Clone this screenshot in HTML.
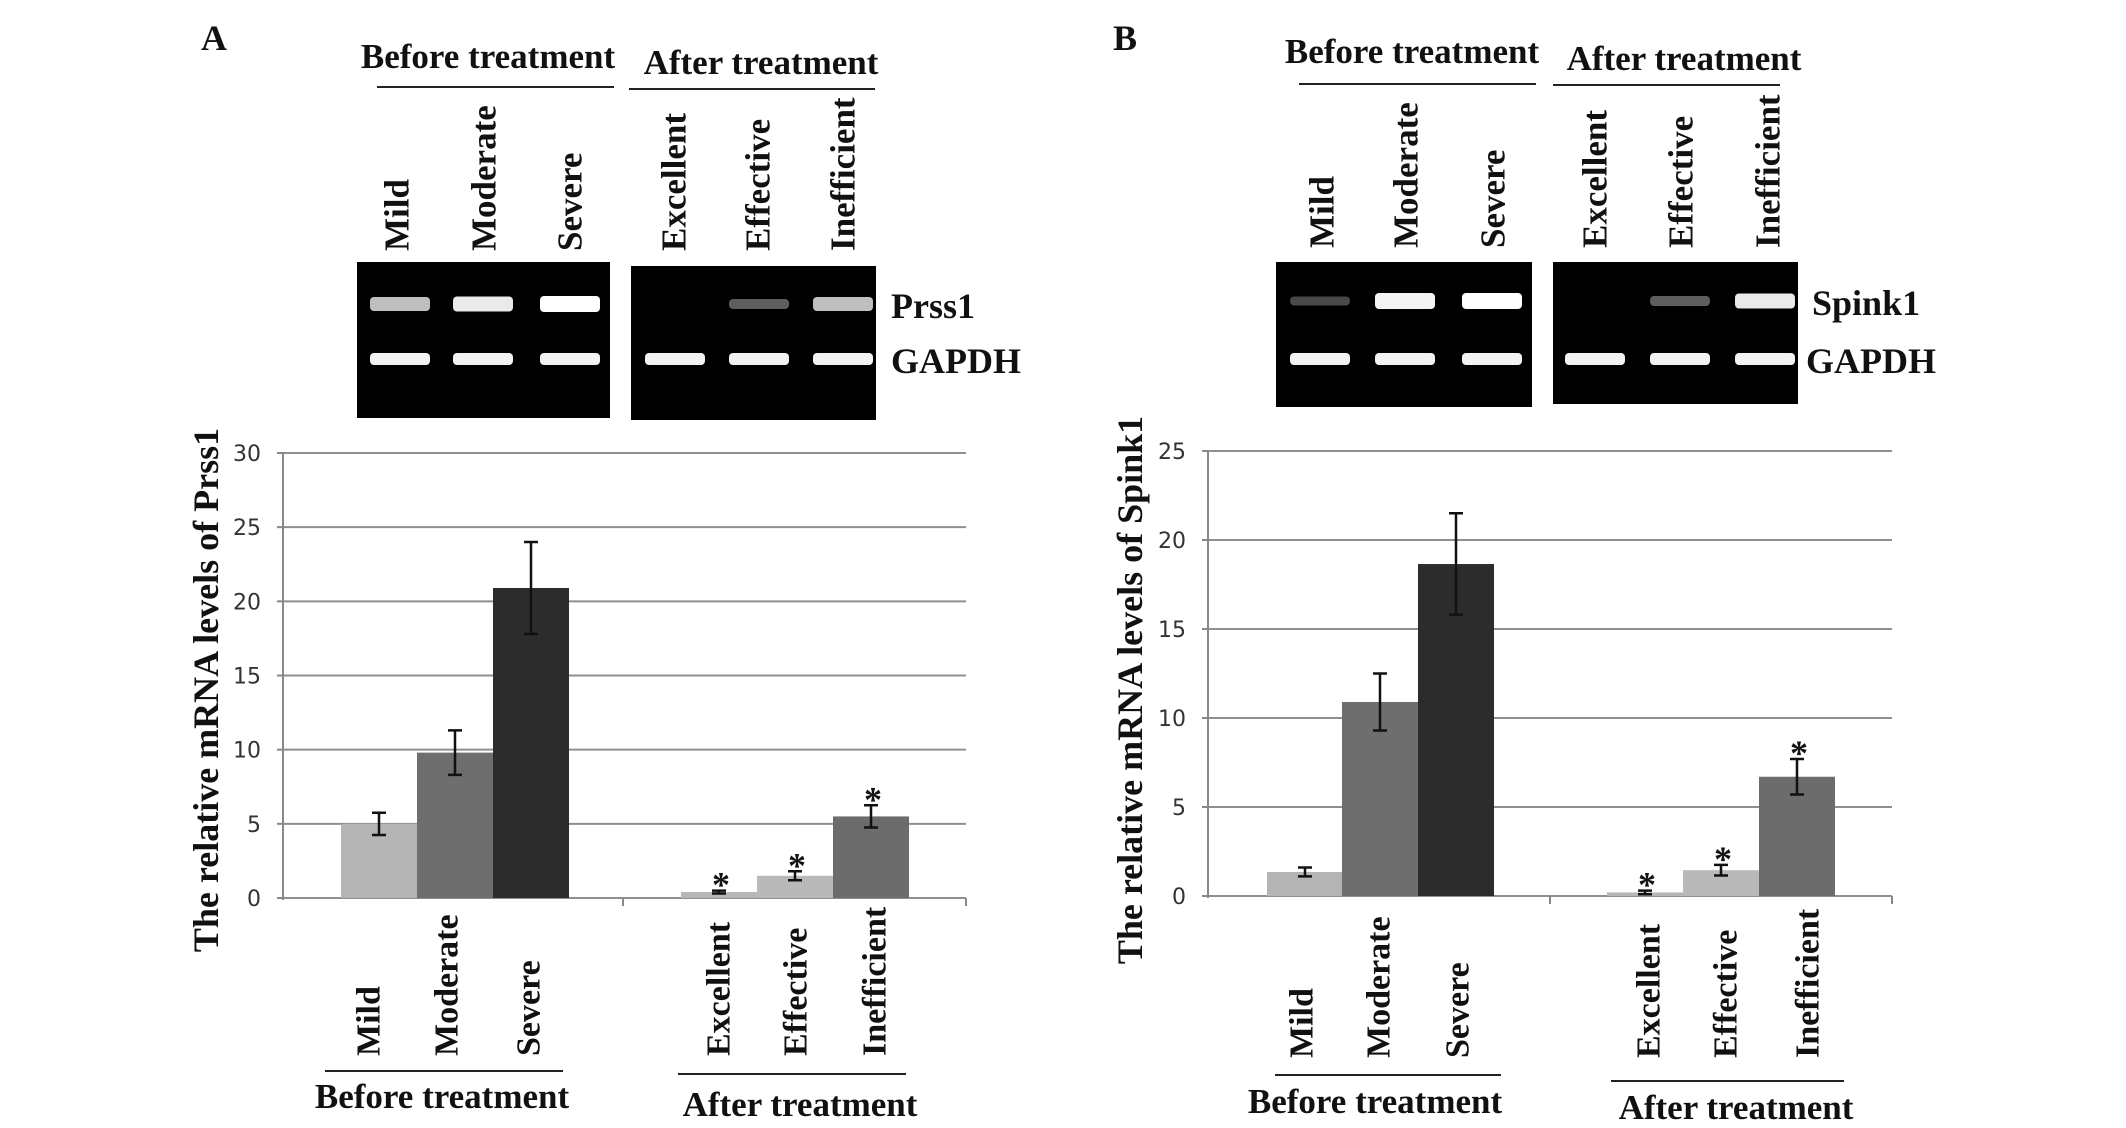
<!DOCTYPE html>
<html><head><meta charset="utf-8"><style>
html,body{margin:0;padding:0;background:#fff;}
svg{display:block;}
.bold{font-family:"Liberation Serif",serif;font-weight:bold;fill:#111;}
.tick{font-family:"DejaVu Sans","Liberation Sans",sans-serif;fill:#333;}
</style></head><body>
<svg id="fig" width="2126" height="1128" viewBox="0 0 2126 1128" xmlns="http://www.w3.org/2000/svg"></svg>
<script>
const categories = ["Mild","Moderate","Severe","Excellent","Effective","Inefficient"];
const prssValues = [5.0, 9.8, 20.9, 0.4, 1.5, 5.5];
const prssErrors = [0.75, 1.5, 3.1, 0.1, 0.3, 0.75];
const spinkValues = [1.35, 10.9, 18.65, 0.2, 1.45, 6.7];
const spinkErrors = [0.25, 1.6, 2.85, 0.1, 0.3, 1.0];
const prssTicks = [0,5,10,15,20,25,30];
const spinkTicks = [0,5,10,15,20,25];
const starred = [false,false,false,true,true,true];
const prssBands = [0.7,0.9,1.0,0.0,0.25,0.7];
const spinkBands = [0.15,0.95,1.0,0.0,0.25,0.9];
const barColors = ["#b4b4b4","#6e6e6e","#2c2c2c","#b6b6b6","#b9b9b9","#6c6c6c"];

const NS="http://www.w3.org/2000/svg";
const svg=document.getElementById('fig');
function mk(tag,attrs,parent){const e=document.createElementNS(NS,tag);for(const k in attrs)e.setAttribute(k,attrs[k]);(parent||svg).appendChild(e);return e;}
function txt(x,y,s,cls,size,anchor,rot,name){
  const t=mk('text',{x:x,y:y,'class':cls,'font-size':size,'text-anchor':anchor||'middle'});
  if(rot){t.setAttribute('transform','rotate(-90 '+x+' '+y+')');t.setAttribute('dominant-baseline','central');}
  t.textContent=s;
  
  
  return t;
}

function panel(P){
  txt(P.letterX,50,P.id.toUpperCase(),'bold',36,'middle',false,'panel-letter-'+P.id);
  txt(P.hBx,P.hBy,'Before treatment','bold',35,'middle',false,'gel-header-before');
  txt(P.hAx,P.hAy,'After treatment','bold',35,'middle',false,'gel-header-after');
  let l=mk('line',{x1:P.lB[0],x2:P.lB[1],y1:P.lB[2],y2:P.lB[2],stroke:'#222','stroke-width':2});
  
  l=mk('line',{x1:P.lA[0],x2:P.lA[1],y1:P.lA[2],y2:P.lA[2],stroke:'#222','stroke-width':2});
  
  categories.forEach((c,i)=>{txt(P.topX[i],P.topY,c,'bold',35,'start',true,'lane-label-'+c.toLowerCase());});
  P.gels.forEach((b,k)=>{
    const r=mk('rect',{x:b[0],y:b[1],width:b[2]-b[0],height:b[3]-b[1],fill:'#000'});
    
    
  });
  categories.forEach((c,i)=>{
    const cx=P.laneX[i];
    const v=P.bands[i];
    if(v>0){
      const col=Math.round(40+215*v);
      const h=8+Math.round(v*8);
      const b=mk('rect',{x:cx-30,y:P.bandY1-h/2,width:60,height:h,rx:4,fill:'rgb('+col+','+col+','+col+')'});
      
      
    }
    const b2=mk('rect',{x:cx-30,y:P.bandY2-6,width:60,height:12,rx:4,fill:'#f2f2f2'});
    
    
  });
  txt(P.gene[0],P.gene[1],P.geneName,'bold',36,'start',false,'gene-label');
  txt(P.gap[0],P.gap[1],'GAPDH','bold',36,'start',false,'gapdh-label');

  const y0=P.y0, yTop=P.yTop, max=P.ticks[P.ticks.length-1];
  const y=v=>y0-(v/max)*(y0-yTop);
  P.ticks.forEach(t=>{
    const gl=mk('line',{x1:P.ax,x2:P.axEnd,y1:y(t),y2:y(t),stroke:'#8f8f8f','stroke-width':2});
    
    
    const tk=mk('line',{x1:P.ax-6,x2:P.ax,y1:y(t),y2:y(t),stroke:'#888','stroke-width':2});
    
    
    txt(P.ax-22,y(t)+8,String(t),'tick',22,'end',false,'y-tick-label-'+t);
  });
  const ya=mk('line',{x1:P.ax,x2:P.ax,y1:yTop,y2:y0+2,stroke:'#888','stroke-width':2});
  
  [P.divX,P.axEnd].forEach(x=>{const t=mk('line',{x1:x,x2:x,y1:y0,y2:y0+8,stroke:'#888','stroke-width':2});
    });
  txt(P.ytX,690,P.ytitle,'bold',36,'middle',true,'y-axis-title');
  categories.forEach((c,i)=>{
    const x=P.barX[i], v=P.values[i], e=P.errors[i];
    const r=mk('rect',{x:x,y:y(v),width:P.barW,height:y0-y(v),fill:barColors[i]});
    
    
    const cx=x+P.barW/2;
    const eb=mk('path',{d:'M'+cx+' '+y(v+e)+'V'+y(v-e)+'M'+(cx-7)+' '+y(v+e)+'h14M'+(cx-7)+' '+y(v-e)+'h14',stroke:'#111','stroke-width':2.5,fill:'none'});
    
    
    if(starred[i]) txt(cx+2,y(v+e)+6,'*','bold',36,'middle',false,'significance-star-'+c.toLowerCase());
    txt(P.botX[i],P.botY,c,'bold',34,'start',true,'x-label-'+c.toLowerCase());
  });
  l=mk('line',{x1:P.bLB[0],x2:P.bLB[1],y1:P.bLB[2],y2:P.bLB[2],stroke:'#222','stroke-width':2});
  
  l=mk('line',{x1:P.bLA[0],x2:P.bLA[1],y1:P.bLA[2],y2:P.bLA[2],stroke:'#222','stroke-width':2});
  
  txt(P.bTB[0],P.bTB[1],'Before treatment','bold',35,'middle',false,'group-label-before');
  txt(P.bTA[0],P.bTA[1],'After treatment','bold',35,'middle',false,'group-label-after');
}

panel({id:'a',letterX:214,hBx:488,hBy:68,hAx:761,hAy:74,lB:[377,614,87],lA:[629,875,89],
  topX:[397,484,570,674,758,843],topY:251,
  gels:[[357,262,610,418],[631,266,876,420]],laneX:[400,483,570,675,759,843],
  bands:prssBands,bandY1:304,bandY2:359,gene:[891,318],geneName:'Prss1',gap:[891,373],
  y0:898,yTop:453,ticks:prssTicks,ax:283,axEnd:966,divX:623,ytX:206,ytitle:'The relative mRNA levels of Prss1',
  barX:[341,417,493,681,757,833],barW:76,values:prssValues,errors:prssErrors,
  botX:[369,447,529,719,796,875],botY:1056,
  bLB:[325,563,1071],bLA:[678,906,1074],bTB:[442,1108],bTA:[800,1116]});

panel({id:'b',letterX:1125,hBx:1412,hBy:63,hAx:1684,hAy:70,lB:[1299,1536,84],lA:[1553,1780,85],
  topX:[1322,1406,1493,1595,1681,1768],topY:248,
  gels:[[1276,262,1532,407],[1553,262,1798,404]],laneX:[1320,1405,1492,1595,1680,1765],
  bands:spinkBands,bandY1:301,bandY2:359,gene:[1812,315],geneName:'Spink1',gap:[1806,373],
  y0:896,yTop:451,ticks:spinkTicks,ax:1208,axEnd:1892,divX:1550,ytX:1130,ytitle:'The relative mRNA levels of Spink1',
  barX:[1267,1342,1418,1607,1683,1759],barW:76,values:spinkValues,errors:spinkErrors,
  botX:[1302,1379,1458,1649,1726,1808],botY:1058,
  bLB:[1275,1501,1075],bLA:[1611,1844,1081],bTB:[1375,1113],bTA:[1736,1119]});
</script>
</body></html>
